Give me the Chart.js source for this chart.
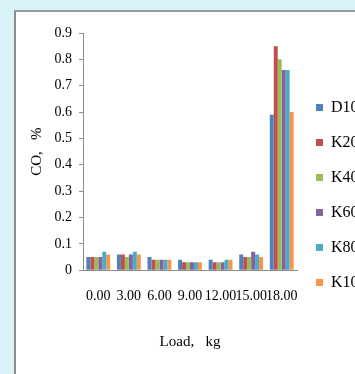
<!DOCTYPE html>
<html>
<head>
<meta charset="utf-8">
<script src="https://cdn.jsdelivr.net/npm/chart.js@4/dist/chart.umd.min.js"></script>
<style>
  html, body { margin: 0; padding: 0; width: 355px; height: 374px; overflow: hidden; background: #d9f2f7; }
  #panel { position: absolute; left: 14px; top: 10px; width: 341px; height: 364px; background: #ffffff;
           border-left: 2px solid #8c8c8c; border-top: 2px solid #9a9a9a; box-sizing: border-box; }
  #c { position: absolute; left: 0; top: 0; }
</style>
</head>
<body>
<div id="panel"></div>
<canvas id="c" width="355" height="374"></canvas>
<script>
const categories = ['0.00', '3.00', '6.00', '9.00', '12.00', '15.00', '18.00'];
const seriesNames = ['D100', 'K20', 'K40', 'K60', 'K80', 'K100'];
const D100 = [0.05, 0.06, 0.05, 0.04, 0.04, 0.06, 0.59];
const K20  = [0.05, 0.06, 0.04, 0.03, 0.03, 0.05, 0.85];
const K40  = [0.05, 0.05, 0.04, 0.03, 0.03, 0.05, 0.80];
const K60  = [0.05, 0.06, 0.04, 0.03, 0.03, 0.07, 0.76];
const K80  = [0.07, 0.07, 0.04, 0.03, 0.04, 0.06, 0.76];
const K100 = [0.06, 0.06, 0.04, 0.03, 0.04, 0.05, 0.60];
const yTickValues = [0, 0.1, 0.2, 0.3, 0.4, 0.5, 0.6, 0.7, 0.8, 0.9];
const yTickLabels = ['0', '0.1', '0.2', '0.3', '0.4', '0.5', '0.6', '0.7', '0.8', '0.9'];

const colors = ['#4F81BD', '#C0504D', '#9BBB59', '#8064A2', '#4BACC6', '#F79646'];
const seriesData = [D100, K20, K40, K60, K80, K100];
const serif = "'Liberation Serif', 'Times New Roman', serif";

const datasets = seriesNames.map((name, i) => ({
  label: name,
  data: seriesData[i],
  backgroundColor: colors[i],
  borderWidth: 0,
  categoryPercentage: 0.78,
  barPercentage: 1.0
}));

new Chart(document.getElementById('c'), {
  type: 'bar',
  data: { labels: categories, datasets: datasets },
  options: {
    responsive: false,
    animation: false,
    devicePixelRatio: 1,
    layout: { padding: { left: 14, top: 33, right: 0, bottom: 17 } },
    plugins: {
      tooltip: { enabled: false },
      legend: {
        position: 'right',
        maxWidth: 58,
        labels: {
          boxWidth: 7,
          boxHeight: 7,
          padding: 19,
          color: '#000',
          font: { family: serif, size: 16 }
        }
      }
    },
    scales: {
      x: {
        grid: { display: false },
        border: { display: true, color: '#8c8c8c', width: 1 },
        ticks: {
          autoSkip: false, maxRotation: 0, minRotation: 0, padding: 10,
          color: '#000', font: { family: serif, size: 14 }
        },
        title: {
          display: true, text: 'Load,   kg', color: '#000',
          font: { family: serif, size: 15 },
          padding: { top: 18, bottom: 6 }
        }
      },
      y: {
        min: 0, max: 0.9,
        afterBuildTicks: (scale) => { scale.ticks = yTickValues.map(v => ({ value: v })); },
        grid: { drawOnChartArea: false, drawTicks: true, tickLength: 4, color: '#8c8c8c' },
        border: { display: true, color: '#8c8c8c', width: 1 },
        ticks: {
          padding: 7, color: '#000', font: { family: serif, size: 14 },
          callback: (v) => { const i = yTickValues.findIndex(t => Math.abs(t - v) < 1e-9); return i >= 0 ? yTickLabels[i] : ''; }
        },
        title: {
          display: true, text: 'CO,   %', color: '#000',
          font: { family: serif, size: 15 },
          padding: { top: 14.5, bottom: 1 }
        }
      }
    }
  }
});
</script>
</body>
</html>
